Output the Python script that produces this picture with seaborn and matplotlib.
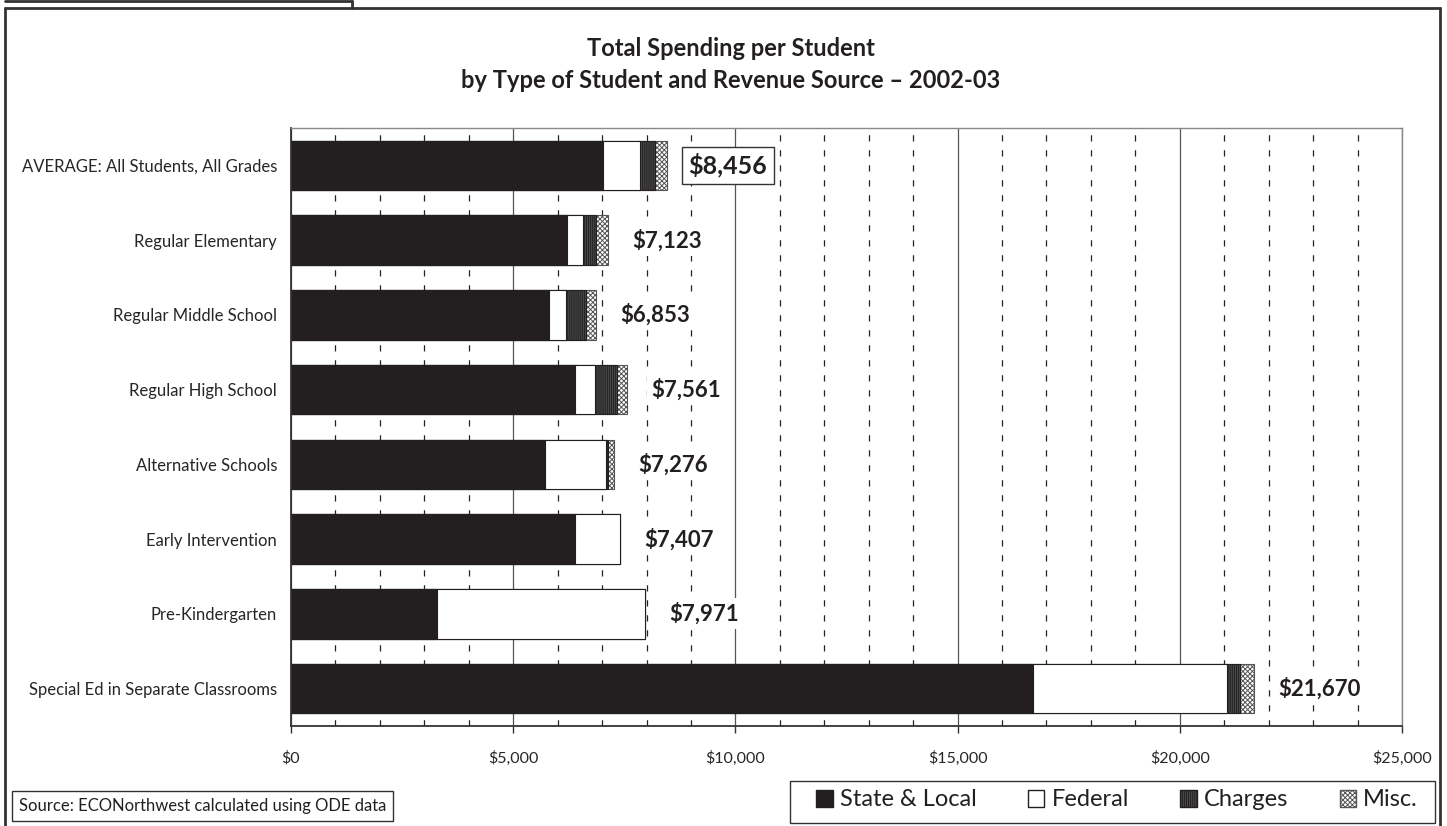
import pandas as pd
import matplotlib.pyplot as plt
import seaborn as sns
import numpy as np
from matplotlib.patches import Patch, Rectangle
from matplotlib.lines import Line2D
from matplotlib.ticker import MultipleLocator, FuncFormatter

# Data (dollars per student)
categories = ["AVERAGE: All Students, All Grades", "Regular Elementary",
              "Regular Middle School", "Regular High School",
              "Alternative Schools", "Early Intervention",
              "Pre-Kindergarten", "Special Ed in Separate Classrooms"]
state_local = [7030, 6216, 5795, 6396, 5706, 6390, 3290, 16700]
federal = [830, 360, 383, 435, 1389, 1017, 4681, 4370]
charges = [320, 290, 466, 500, 30, 0, 0, 280]
misc = [276, 257, 209, 230, 151, 0, 0, 320]
totals = [8456, 7123, 6853, 7561, 7276, 7407, 7971, 21670]
source_names = ["State & Local", "Federal", "Charges", "Misc."]

df = pd.DataFrame({"cat": categories, "State & Local": state_local,
                   "Federal": federal, "Charges": charges, "Misc.": misc})
df["c1"] = df["State & Local"]
df["c2"] = df["c1"] + df["Federal"]
df["c3"] = df["c2"] + df["Charges"]
df["c4"] = df["c3"] + df["Misc."]

sns.set_style("white")
plt.rcParams["font.family"] = ["Lato", "DejaVu Sans"]
plt.rcParams["hatch.linewidth"] = 0.7

W, H = 1447, 826
fig = plt.figure(figsize=(W / 100, H / 100), dpi=100)
ax = fig.add_axes([291 / W, 1 - 726 / H, 1111 / W, 598 / H])

dark = "#231f20"
# stacked bars drawn as cumulative layers, longest first
styles = [("c4", "white", "xxxxxxx", "#555555"),
          ("c3", "#4a4a4a", "||||||||", dark),
          ("c2", "white", None, dark),
          ("c1", dark, None, dark)]
for col, fc, h, ec in styles:
    sns.barplot(data=df, x=col, y="cat", orient="h", color=fc, width=0.66,
                edgecolor=ec, linewidth=0.8, hatch=h, saturation=1, ax=ax,
                zorder=2)

ax.set_xlim(0, 25000)
ax.set_ylim(7.5, -0.5)
ax.xaxis.set_major_locator(MultipleLocator(5000))
ax.xaxis.set_minor_locator(MultipleLocator(1000))
ax.xaxis.set_major_formatter(FuncFormatter(lambda v, p: f"${v:,.0f}"))
ax.grid(axis="x", which="major", color="#555555", linewidth=0.9, linestyle="-", zorder=0)
ax.grid(axis="x", which="minor", color="#222222", linewidth=0.9,
        linestyle=(0, (5, 7)), zorder=0)
ax.set_axisbelow(True)
ax.set_xlabel("")
ax.set_ylabel("")
ax.tick_params(axis="x", which="major", length=5, width=1, pad=13,
               labelsize=11.5, direction="out", bottom=True, color="#333333")
ax.tick_params(axis="x", which="minor", length=0)
ax.tick_params(axis="y", length=0, pad=10, labelsize=12)
for s in ["left", "bottom"]:
    ax.spines[s].set_color("#333333")
    ax.spines[s].set_linewidth(1.3)
for s in ["top", "right"]:
    ax.spines[s].set_color("#888888")
    ax.spines[s].set_linewidth(1.0)

# Total labels
for i, t in enumerate(totals):
    if i == 0:
        ax.text(t + 490, i, f"${t:,}", ha="left", va="center", fontsize=18,
                fontweight="bold", color=dark, zorder=5,
                bbox=dict(facecolor="white", edgecolor="#333333", linewidth=1,
                          boxstyle="square,pad=0.25"))
    else:
        ax.text(t + 550, i, f"${t:,}", ha="left", va="center", fontsize=16,
                fontweight="bold", color=dark, zorder=5,
                bbox=dict(facecolor="white", edgecolor="none",
                          boxstyle="square,pad=0.2"))

# Titles
fig.text(0.505, 1 - 49 / H, "Total Spending per Student", ha="center",
         va="center", fontsize=17, fontweight="bold", color=dark)
fig.text(0.505, 1 - 80 / H, "by Type of Student and Revenue Source \u2013 2002-03",
         ha="center", va="center", fontsize=17, fontweight="bold", color=dark)

# Legend (frame drawn separately to match the wide box)
handles = [Patch(facecolor=dark, edgecolor=dark),
           Patch(facecolor="white", edgecolor=dark),
           Patch(facecolor="#4a4a4a", edgecolor=dark, hatch="||||||||"),
           Patch(facecolor="white", edgecolor="#555555", hatch="xxxxxxx")]
leg = fig.legend(handles, source_names, ncol=4, loc="center left",
                 bbox_to_anchor=(816 / W, 1 - 812 / H, (1418 - 816) / W, 24 / H),
                 mode="expand", frameon=False, fontsize=17, handlelength=0.7,
                 handleheight=0.7, handletextpad=0.3, borderpad=0,
                 borderaxespad=0)
for txt in leg.get_texts():
    txt.set_color(dark)
fig.add_artist(Rectangle((790 / W, 1 - 823 / H), 645 / W, 42 / H, fill=False,
                         edgecolor="#333333", linewidth=1,
                         transform=fig.transFigure))

# Source box
fig.text(19 / W, 1 - 806 / H, "Source: ECONorthwest calculated using ODE data",
         ha="left", va="center", fontsize=12, color=dark,
         bbox=dict(facecolor="white", edgecolor="#333333", linewidth=1,
                   boxstyle="square,pad=0.4"))

# Outer frame lines
fw = 2
frame = [([5, 5], [H, 8]), ([1440, 1440], [H, 8]), ([5, 1440], [8, 8]),
         ([5, 352], [1, 1]), ([352, 352], [1, 8])]
for xs, ys in frame:
    fig.add_artist(Line2D([x / W for x in xs], [1 - y / H for y in ys],
                          color="#333333", linewidth=fw,
                          transform=fig.transFigure))

fig.savefig("out.png", dpi=100)
